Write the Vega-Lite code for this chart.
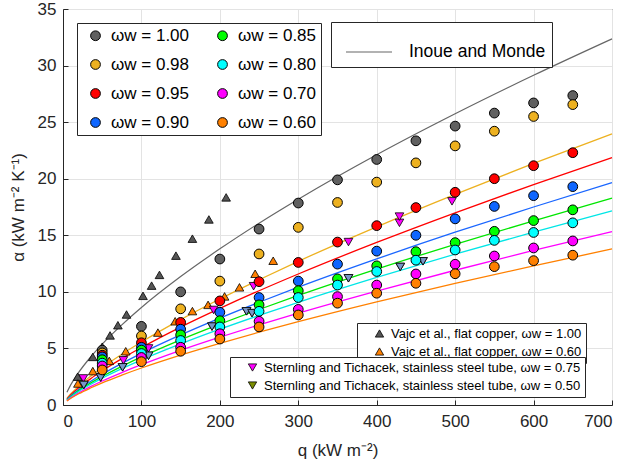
{
  "$schema": "https://vega.github.io/schema/vega-lite/v6.json",
  "width": 549,
  "height": 396,
  "autosize": "none",
  "padding": {"left": 63, "top": 9, "right": 17, "bottom": 61},
  "background": "white",
  "datasets": {
    "corr": [
      {"s":"0.98","q":5,"a":0.59},{"s":"0.98","q":10,"a":0.99},{"s":"0.98","q":20,"a":1.67},{"s":"0.98","q":35,"a":2.53},{"s":"0.98","q":50,"a":3.31},{"s":"0.98","q":75,"a":4.49},{"s":"0.98","q":100,"a":5.57},{"s":"0.98","q":150,"a":7.55},{"s":"0.98","q":200,"a":9.37},{"s":"0.98","q":250,"a":11.07},{"s":"0.98","q":300,"a":12.70},{"s":"0.98","q":400,"a":15.75},{"s":"0.98","q":500,"a":18.62},{"s":"0.98","q":600,"a":21.35},{"s":"0.98","q":700,"a":23.97},
      {"s":"0.95","q":5,"a":0.54},{"s":"0.95","q":10,"a":0.90},{"s":"0.95","q":20,"a":1.52},{"s":"0.95","q":35,"a":2.31},{"s":"0.95","q":50,"a":3.02},{"s":"0.95","q":75,"a":4.10},{"s":"0.95","q":100,"a":5.08},{"s":"0.95","q":150,"a":6.89},{"s":"0.95","q":200,"a":8.54},{"s":"0.95","q":250,"a":10.10},{"s":"0.95","q":300,"a":11.58},{"s":"0.95","q":400,"a":14.37},{"s":"0.95","q":500,"a":16.99},{"s":"0.95","q":600,"a":19.48},{"s":"0.95","q":700,"a":21.87},
      {"s":"0.90","q":5,"a":0.48},{"s":"0.90","q":10,"a":0.81},{"s":"0.90","q":20,"a":1.37},{"s":"0.90","q":35,"a":2.08},{"s":"0.90","q":50,"a":2.72},{"s":"0.90","q":75,"a":3.68},{"s":"0.90","q":100,"a":4.57},{"s":"0.90","q":150,"a":6.19},{"s":"0.90","q":200,"a":7.68},{"s":"0.90","q":250,"a":9.08},{"s":"0.90","q":300,"a":10.41},{"s":"0.90","q":400,"a":12.91},{"s":"0.90","q":500,"a":15.27},{"s":"0.90","q":600,"a":17.50},{"s":"0.90","q":700,"a":19.65},
      {"s":"0.85","q":5,"a":0.45},{"s":"0.85","q":10,"a":0.76},{"s":"0.85","q":20,"a":1.27},{"s":"0.85","q":35,"a":1.93},{"s":"0.85","q":50,"a":2.53},{"s":"0.85","q":75,"a":3.42},{"s":"0.85","q":100,"a":4.25},{"s":"0.85","q":150,"a":5.76},{"s":"0.85","q":200,"a":7.14},{"s":"0.85","q":250,"a":8.44},{"s":"0.85","q":300,"a":9.68},{"s":"0.85","q":400,"a":12.01},{"s":"0.85","q":500,"a":14.20},{"s":"0.85","q":600,"a":16.28},{"s":"0.85","q":700,"a":18.28},
      {"s":"0.80","q":5,"a":0.42},{"s":"0.80","q":10,"a":0.71},{"s":"0.80","q":20,"a":1.19},{"s":"0.80","q":35,"a":1.81},{"s":"0.80","q":50,"a":2.37},{"s":"0.80","q":75,"a":3.21},{"s":"0.80","q":100,"a":3.99},{"s":"0.80","q":150,"a":5.40},{"s":"0.80","q":200,"a":6.70},{"s":"0.80","q":250,"a":7.92},{"s":"0.80","q":300,"a":9.08},{"s":"0.80","q":400,"a":11.27},{"s":"0.80","q":500,"a":13.33},{"s":"0.80","q":600,"a":15.28},{"s":"0.80","q":700,"a":17.15},
      {"s":"0.70","q":5,"a":0.38},{"s":"0.70","q":10,"a":0.63},{"s":"0.70","q":20,"a":1.06},{"s":"0.70","q":35,"a":1.62},{"s":"0.70","q":50,"a":2.12},{"s":"0.70","q":75,"a":2.87},{"s":"0.70","q":100,"a":3.56},{"s":"0.70","q":150,"a":4.83},{"s":"0.70","q":200,"a":5.99},{"s":"0.70","q":250,"a":7.08},{"s":"0.70","q":300,"a":8.12},{"s":"0.70","q":400,"a":10.07},{"s":"0.70","q":500,"a":11.91},{"s":"0.70","q":600,"a":13.66},{"s":"0.70","q":700,"a":15.33},
      {"s":"0.60","q":5,"a":0.36},{"s":"0.60","q":10,"a":0.59},{"s":"0.60","q":20,"a":0.99},{"s":"0.60","q":35,"a":1.50},{"s":"0.60","q":50,"a":1.96},{"s":"0.60","q":75,"a":2.64},{"s":"0.60","q":100,"a":3.27},{"s":"0.60","q":150,"a":4.41},{"s":"0.60","q":200,"a":5.45},{"s":"0.60","q":250,"a":6.43},{"s":"0.60","q":300,"a":7.36},{"s":"0.60","q":400,"a":9.11},{"s":"0.60","q":500,"a":10.75},{"s":"0.60","q":600,"a":12.30},{"s":"0.60","q":700,"a":13.79}
    ],
    "inoue": [
      {"s":"Inoue and Monde","q":5,"a":1.12},{"s":"Inoue and Monde","q":10,"a":1.80},{"s":"Inoue and Monde","q":20,"a":2.88},{"s":"Inoue and Monde","q":35,"a":4.22},{"s":"Inoue and Monde","q":50,"a":5.38},{"s":"Inoue and Monde","q":75,"a":7.08},{"s":"Inoue and Monde","q":100,"a":8.62},{"s":"Inoue and Monde","q":150,"a":11.35},{"s":"Inoue and Monde","q":200,"a":13.80},{"s":"Inoue and Monde","q":250,"a":16.07},{"s":"Inoue and Monde","q":300,"a":18.19},{"s":"Inoue and Monde","q":400,"a":22.12},{"s":"Inoue and Monde","q":500,"a":25.74},{"s":"Inoue and Monde","q":600,"a":29.14},{"s":"Inoue and Monde","q":700,"a":32.36}
    ],
    "circles": [
      {"s":"ωw = 1.00","q":50,"a":4.85},{"s":"ωw = 1.00","q":100,"a":6.95},{"s":"ωw = 1.00","q":150,"a":10.0},{"s":"ωw = 1.00","q":200,"a":12.9},{"s":"ωw = 1.00","q":250,"a":15.55},{"s":"ωw = 1.00","q":300,"a":17.85},{"s":"ωw = 1.00","q":350,"a":19.9},{"s":"ωw = 1.00","q":400,"a":21.7},{"s":"ωw = 1.00","q":450,"a":23.35},{"s":"ωw = 1.00","q":500,"a":24.65},{"s":"ωw = 1.00","q":550,"a":25.8},{"s":"ωw = 1.00","q":600,"a":26.7},{"s":"ωw = 1.00","q":650,"a":27.35},
      {"s":"ωw = 0.98","q":50,"a":4.6},{"s":"ωw = 0.98","q":100,"a":6.1},{"s":"ωw = 0.98","q":150,"a":8.5},{"s":"ωw = 0.98","q":200,"a":10.95},{"s":"ωw = 0.98","q":250,"a":13.35},{"s":"ωw = 0.98","q":300,"a":15.7},{"s":"ωw = 0.98","q":350,"a":17.9},{"s":"ωw = 0.98","q":400,"a":19.7},{"s":"ωw = 0.98","q":450,"a":21.4},{"s":"ωw = 0.98","q":500,"a":22.9},{"s":"ωw = 0.98","q":550,"a":24.2},{"s":"ωw = 0.98","q":600,"a":25.5},{"s":"ωw = 0.98","q":650,"a":26.55},
      {"s":"ωw = 0.95","q":50,"a":4.4},{"s":"ωw = 0.95","q":100,"a":5.5},{"s":"ωw = 0.95","q":150,"a":7.3},{"s":"ωw = 0.95","q":200,"a":9.2},{"s":"ωw = 0.95","q":250,"a":10.9},{"s":"ωw = 0.95","q":300,"a":12.6},{"s":"ωw = 0.95","q":350,"a":14.4},{"s":"ωw = 0.95","q":400,"a":15.85},{"s":"ωw = 0.95","q":450,"a":17.45},{"s":"ωw = 0.95","q":500,"a":18.8},{"s":"ωw = 0.95","q":550,"a":20.0},{"s":"ωw = 0.95","q":600,"a":21.15},{"s":"ωw = 0.95","q":650,"a":22.3},
      {"s":"ωw = 0.90","q":50,"a":4.25},{"s":"ωw = 0.90","q":100,"a":5.1},{"s":"ωw = 0.90","q":150,"a":6.7},{"s":"ωw = 0.90","q":200,"a":8.2},{"s":"ωw = 0.90","q":250,"a":9.5},{"s":"ωw = 0.90","q":300,"a":10.95},{"s":"ωw = 0.90","q":350,"a":12.45},{"s":"ωw = 0.90","q":400,"a":13.6},{"s":"ωw = 0.90","q":450,"a":15.0},{"s":"ωw = 0.90","q":500,"a":16.45},{"s":"ωw = 0.90","q":550,"a":17.55},{"s":"ωw = 0.90","q":600,"a":18.5},{"s":"ωw = 0.90","q":650,"a":19.3},
      {"s":"ωw = 0.85","q":50,"a":4.0},{"s":"ωw = 0.85","q":100,"a":4.85},{"s":"ωw = 0.85","q":150,"a":6.2},{"s":"ωw = 0.85","q":200,"a":7.45},{"s":"ωw = 0.85","q":250,"a":8.85},{"s":"ωw = 0.85","q":300,"a":10.1},{"s":"ωw = 0.85","q":350,"a":11.15},{"s":"ωw = 0.85","q":400,"a":12.3},{"s":"ωw = 0.85","q":450,"a":13.55},{"s":"ωw = 0.85","q":500,"a":14.35},{"s":"ωw = 0.85","q":550,"a":15.35},{"s":"ωw = 0.85","q":600,"a":16.3},{"s":"ωw = 0.85","q":650,"a":17.25},
      {"s":"ωw = 0.80","q":50,"a":3.7},{"s":"ωw = 0.80","q":100,"a":4.55},{"s":"ωw = 0.80","q":150,"a":5.7},{"s":"ωw = 0.80","q":200,"a":6.9},{"s":"ωw = 0.80","q":250,"a":8.28},{"s":"ωw = 0.80","q":300,"a":9.5},{"s":"ωw = 0.80","q":350,"a":10.6},{"s":"ωw = 0.80","q":400,"a":11.8},{"s":"ωw = 0.80","q":450,"a":12.8},{"s":"ωw = 0.80","q":500,"a":13.7},{"s":"ωw = 0.80","q":550,"a":14.55},{"s":"ωw = 0.80","q":600,"a":15.25},{"s":"ωw = 0.80","q":650,"a":16.1},
      {"s":"ωw = 0.70","q":50,"a":3.45},{"s":"ωw = 0.70","q":100,"a":4.2},{"s":"ωw = 0.70","q":150,"a":5.1},{"s":"ωw = 0.70","q":200,"a":6.3},{"s":"ωw = 0.70","q":250,"a":7.4},{"s":"ωw = 0.70","q":300,"a":8.45},{"s":"ωw = 0.70","q":350,"a":9.58},{"s":"ωw = 0.70","q":400,"a":10.6},{"s":"ωw = 0.70","q":450,"a":11.58},{"s":"ωw = 0.70","q":500,"a":12.44},{"s":"ωw = 0.70","q":550,"a":13.17},{"s":"ωw = 0.70","q":600,"a":13.88},{"s":"ωw = 0.70","q":650,"a":14.5},
      {"s":"ωw = 0.60","q":50,"a":3.1},{"s":"ωw = 0.60","q":100,"a":3.83},{"s":"ωw = 0.60","q":150,"a":4.75},{"s":"ωw = 0.60","q":200,"a":5.83},{"s":"ωw = 0.60","q":250,"a":6.9},{"s":"ωw = 0.60","q":300,"a":7.96},{"s":"ωw = 0.60","q":350,"a":9.0},{"s":"ωw = 0.60","q":400,"a":9.88},{"s":"ωw = 0.60","q":450,"a":10.76},{"s":"ωw = 0.60","q":500,"a":11.6},{"s":"ωw = 0.60","q":550,"a":12.23},{"s":"ωw = 0.60","q":600,"a":12.76},{"s":"ωw = 0.60","q":650,"a":13.24}
    ],
    "vajc": [
      {"s":"Vajc et al., flat copper, ωw = 1.00","q":18.7,"a":2.5},{"s":"Vajc et al., flat copper, ωw = 1.00","q":38,"a":4.25},{"s":"Vajc et al., flat copper, ωw = 1.00","q":50,"a":5.15},{"s":"Vajc et al., flat copper, ωw = 1.00","q":60,"a":6.15},{"s":"Vajc et al., flat copper, ωw = 1.00","q":70,"a":7.05},{"s":"Vajc et al., flat copper, ωw = 1.00","q":81,"a":8.0},{"s":"Vajc et al., flat copper, ωw = 1.00","q":102,"a":9.65},{"s":"Vajc et al., flat copper, ωw = 1.00","q":113,"a":10.55},{"s":"Vajc et al., flat copper, ωw = 1.00","q":123,"a":11.5},{"s":"Vajc et al., flat copper, ωw = 1.00","q":144,"a":13.2},{"s":"Vajc et al., flat copper, ωw = 1.00","q":165,"a":14.7},{"s":"Vajc et al., flat copper, ωw = 1.00","q":186,"a":16.4},{"s":"Vajc et al., flat copper, ωw = 1.00","q":208,"a":18.35},
      {"s":"Vajc et al., flat copper, ωw = 0.60","q":19,"a":1.9},{"s":"Vajc et al., flat copper, ωw = 0.60","q":38,"a":3.0},{"s":"Vajc et al., flat copper, ωw = 0.60","q":59,"a":3.9},{"s":"Vajc et al., flat copper, ωw = 0.60","q":80,"a":4.75},{"s":"Vajc et al., flat copper, ωw = 0.60","q":121,"a":6.4},{"s":"Vajc et al., flat copper, ωw = 0.60","q":143,"a":7.4},{"s":"Vajc et al., flat copper, ωw = 0.60","q":165,"a":8.3},{"s":"Vajc et al., flat copper, ωw = 0.60","q":185,"a":8.85},{"s":"Vajc et al., flat copper, ωw = 0.60","q":206,"a":9.6},{"s":"Vajc et al., flat copper, ωw = 0.60","q":225,"a":10.4},{"s":"Vajc et al., flat copper, ωw = 0.60","q":245,"a":11.6},{"s":"Vajc et al., flat copper, ωw = 0.60","q":268,"a":12.75}
    ],
    "stern": [
      {"s":"Sternling and Tichacek, stainless steel tube, ωw = 0.75","q":26,"a":2.35},{"s":"Sternling and Tichacek, stainless steel tube, ωw = 0.75","q":77,"a":3.95},{"s":"Sternling and Tichacek, stainless steel tube, ωw = 0.75","q":109,"a":5.0},{"s":"Sternling and Tichacek, stainless steel tube, ωw = 0.75","q":192,"a":8.4},{"s":"Sternling and Tichacek, stainless steel tube, ωw = 0.75","q":243,"a":10.5},{"s":"Sternling and Tichacek, stainless steel tube, ωw = 0.75","q":364,"a":14.4},{"s":"Sternling and Tichacek, stainless steel tube, ωw = 0.75","q":429,"a":16.1},{"s":"Sternling and Tichacek, stainless steel tube, ωw = 0.75","q":429,"a":16.65},{"s":"Sternling and Tichacek, stainless steel tube, ωw = 0.75","q":496,"a":18.0},
      {"s":"Sternling and Tichacek, stainless steel tube, ωw = 0.50","q":26.5,"a":1.77},{"s":"Sternling and Tichacek, stainless steel tube, ωw = 0.50","q":48,"a":2.43},{"s":"Sternling and Tichacek, stainless steel tube, ωw = 0.50","q":76,"a":3.33},{"s":"Sternling and Tichacek, stainless steel tube, ωw = 0.50","q":109,"a":4.35},{"s":"Sternling and Tichacek, stainless steel tube, ωw = 0.50","q":190,"a":6.93},{"s":"Sternling and Tichacek, stainless steel tube, ωw = 0.50","q":234,"a":8.28},{"s":"Sternling and Tichacek, stainless steel tube, ωw = 0.50","q":241,"a":8.12},{"s":"Sternling and Tichacek, stainless steel tube, ωw = 0.50","q":364,"a":11.2},{"s":"Sternling and Tichacek, stainless steel tube, ωw = 0.50","q":430,"a":12.2},{"s":"Sternling and Tichacek, stainless steel tube, ωw = 0.50","q":459,"a":12.7}
    ]
  },
  "encoding": {
    "x": {"field": "q", "type": "quantitative", "scale": {"domain": [0, 700], "nice": false}, "axis": {"title": "q (kW m⁻²)", "values": [0,100,200,300,400,500,600,700], "tickSize": -5, "labelPadding": 13, "titlePadding": 13}},
    "y": {"field": "a", "type": "quantitative", "scale": {"domain": [0, 35], "nice": false}, "axis": {"title": "α (kW m⁻² K⁻¹)", "values": [0,5,10,15,20,25,30,35], "tickSize": -5, "labelPadding": 12, "titlePadding": 10}}
  },
  "layer": [
    {
      "data": {"name": "corr"},
      "mark": {"type": "line", "strokeWidth": 1.3, "interpolate": "monotone"},
      "encoding": {
        "stroke": {"field": "s", "type": "nominal", "scale": {"domain": ["0.98","0.95","0.90","0.85","0.80","0.70","0.60"], "range": ["#EDB120","#ff0000","#1a66ff","#00e600","#00e6e6","#ff00ff","#ff8000"]}, "legend": null}
      }
    },
    {
      "data": {"name": "inoue"},
      "mark": {"type": "line", "strokeWidth": 1.2, "interpolate": "monotone"},
      "encoding": {
        "stroke": {"field": "s", "type": "nominal", "scale": {"range": ["#666666"]}, "legend": {"orient": "none", "legendX": 268, "legendY": 13, "symbolType": "stroke", "symbolSize": 2116, "symbolStrokeWidth": 1.2, "labelFontSize": 17.5, "padding": 6, "symbolOffset": 8, "labelOffset": 16, "labelLimit": 400, "title": null}}
      }
    },
    {
      "data": {"name": "vajc"},
      "mark": {"type": "point", "shape": "triangle-up", "filled": true, "size": 75, "stroke": "#000000", "strokeWidth": 0.8, "opacity": 1},
      "encoding": {
        "fill": {"field": "s", "type": "nominal", "scale": {"domain": ["Vajc et al., flat copper, ωw = 1.00", "Vajc et al., flat copper, ωw = 0.60"], "range": ["#555555", "#ff8000"]}, "legend": {"orient": "none", "legendX": 294, "legendY": 314, "symbolType": "triangle-up", "symbolSize": 70, "symbolStrokeColor": "#000000", "symbolStrokeWidth": 0.8, "labelFontSize": 13, "labelLimit": 400, "padding": 4, "symbolOffset": 12, "labelOffset": 5, "rowPadding": 4, "title": null, "zindex": 1}}
      }
    },
    {
      "data": {"name": "stern"},
      "mark": {"type": "point", "shape": "triangle-down", "filled": true, "size": 75, "stroke": "#000000", "strokeWidth": 0.8, "opacity": 1},
      "encoding": {
        "fill": {"field": "s", "type": "nominal", "scale": {"domain": ["Sternling and Tichacek, stainless steel tube, ωw = 0.75", "Sternling and Tichacek, stainless steel tube, ωw = 0.50"], "range": ["#ff00ff", "#7a8c00"]}, "legend": {"orient": "none", "legendX": 167, "legendY": 348, "symbolType": "triangle-down", "symbolSize": 70, "symbolStrokeColor": "#000000", "symbolStrokeWidth": 0.8, "labelFontSize": 13, "labelLimit": 500, "padding": 4, "symbolOffset": 12, "labelOffset": 5, "rowPadding": 4, "title": null, "zindex": 2}}
      }
    },
    {
      "data": {"name": "stern"},
      "transform": [{"filter": "datum.s == 'Sternling and Tichacek, stainless steel tube, ωw = 0.50'"}],
      "mark": {"type": "point", "shape": "triangle-down", "filled": true, "size": 75, "stroke": "#000000", "strokeWidth": 0.8, "opacity": 1, "fill": "#7896c8"}
    },
    {
      "data": {"name": "circles"},
      "mark": {"type": "point", "shape": "circle", "filled": true, "size": 95, "stroke": "#000000", "strokeWidth": 1, "opacity": 1},
      "encoding": {
        "fill": {"field": "s", "type": "nominal", "sort": null, "scale": {"domain": ["ωw = 1.00","ωw = 0.98","ωw = 0.95","ωw = 0.90","ωw = 0.85","ωw = 0.80","ωw = 0.70","ωw = 0.60"], "range": ["#606060","#EDB120","#ff0000","#0f66ff","#00ff00","#00ffff","#ff00ff","#ff8000"]}, "legend": {"orient": "none", "legendX": 14, "legendY": 14, "columns": 2, "columnPadding": 18, "rowPadding": 11, "symbolType": "circle", "symbolSize": 95, "symbolStrokeColor": "#000000", "symbolStrokeWidth": 1, "labelFontSize": 17, "labelLimit": 300, "padding": 4, "symbolOffset": 6, "labelOffset": 7, "title": null}}
      }
    }
  ],
  "resolve": {"scale": {"fill": "independent", "stroke": "independent"}},
  "config": {
    "font": "Liberation Sans",
    "view": {"stroke": "#262626", "strokeWidth": 1},
    "axis": {"labelFont": "Liberation Sans", "labelFontSize": 17, "labelColor": "#262626", "titleFont": "Liberation Sans", "titleFontSize": 17, "titleFontWeight": "normal", "titleColor": "#262626", "domainColor": "#262626", "tickColor": "#262626", "gridColor": "#e3e3e3", "gridWidth": 1},
    "legend": {"labelFont": "Liberation Sans", "labelColor": "#000000", "strokeColor": "#262626", "fillColor": "#ffffff", "cornerRadius": 0}
  }
}
